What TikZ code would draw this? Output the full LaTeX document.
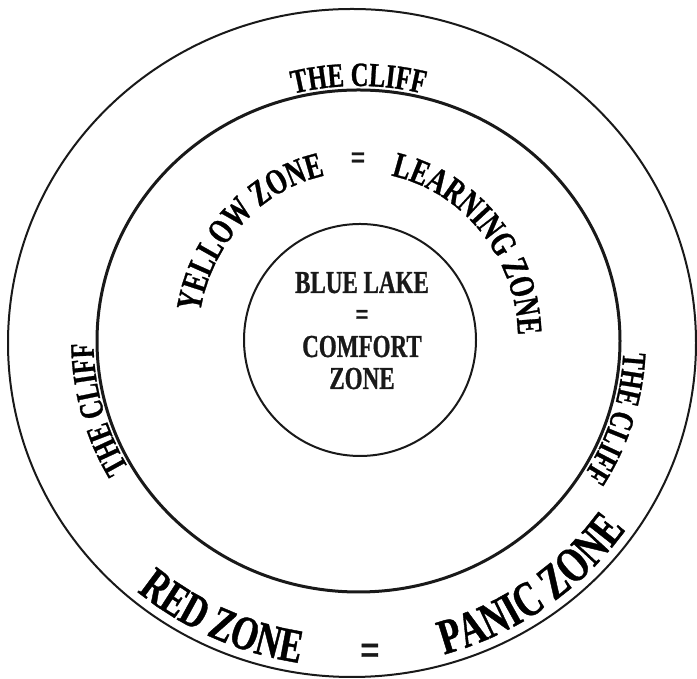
\documentclass[tikz,border=0pt]{standalone}
\usepackage{fontspec}
\setmainfont{Liberation Serif}[FakeStretch=0.72]
\newfontfamily\cf{Liberation Serif}[FakeStretch=0.72, FakeBold=0.8]
\usetikzlibrary{decorations.text}
\tikzset{
  ring/.style={draw=black!90, line width=#1},
  curvetext/.style n args={2}{decorate, decoration={text along path,
      text={|\cf\bfseries\fontsize{#1}{#1}\selectfont|#2}, text align=center}},
  plaintext/.style={font=\cf\bfseries\fontsize{#1}{#1}\selectfont, inner sep=0pt, text=black!90}
}
\begin{document}
\begin{tikzpicture}[x=1pt,y=1pt]
\useasboundingbox (0,0) rectangle (697,679);
% rings
\draw[ring=2pt] (352,336) ellipse [x radius=344, y radius=334];
\draw[ring=3pt] (358.5,338) ellipse [x radius=261.5, y radius=251];
\draw[ring=2pt] (360,339) circle [radius=116];
% THE CLIFF (three times, on the middle ring)
\path[curvetext={34}{THE CLIFF}] (358.5,338) ++(125:265 and 255)
  arc[start angle=125, end angle=55, x radius=265, y radius=255];
\path[curvetext={34}{THE CLIFF}] (358.5,338) ++(230:265 and 255)
  arc[start angle=230, end angle=160, x radius=265, y radius=255];
\path[curvetext={34}{THE CLIFF}] (358.5,338) ++(18:265 and 255)
  arc[start angle=18, end angle=-52, x radius=265, y radius=255];
% yellow zone
\path[curvetext={36}{YELLOW ZONE}] (358,339) ++(180:160 and 168)
  arc[start angle=180, end angle=92, x radius=160, y radius=168];
\node[plaintext=36] (yeq) at (358,518) {=};
\path[curvetext={36}{LEARNING ZONE}] (358,339) ++(84:160 and 168)
  arc[start angle=84, end angle=-4, x radius=160, y radius=168];
% red zone
\path[curvetext={48}{RED ZONE}] (352,336) ++(225:335 and 324)
  arc[start angle=225, end angle=266, x radius=335, y radius=324];
\node[plaintext=48] (req) at (370,24) {=};
\path[curvetext={50}{PANIC ZONE}] (352,336) ++(280:335 and 324)
  arc[start angle=280, end angle=331, x radius=335, y radius=324];
% blue lake
\node[plaintext=32, anchor=base] (b1) at (362,386) {BLUE LAKE};
\node[plaintext=32, anchor=base] (b2) at (362,354) {=};
\node[plaintext=32, anchor=base] (b3) at (362,322) {COMFORT};
\node[plaintext=32, anchor=base] (b4) at (362,290) {ZONE};
\end{tikzpicture}
\end{document}
